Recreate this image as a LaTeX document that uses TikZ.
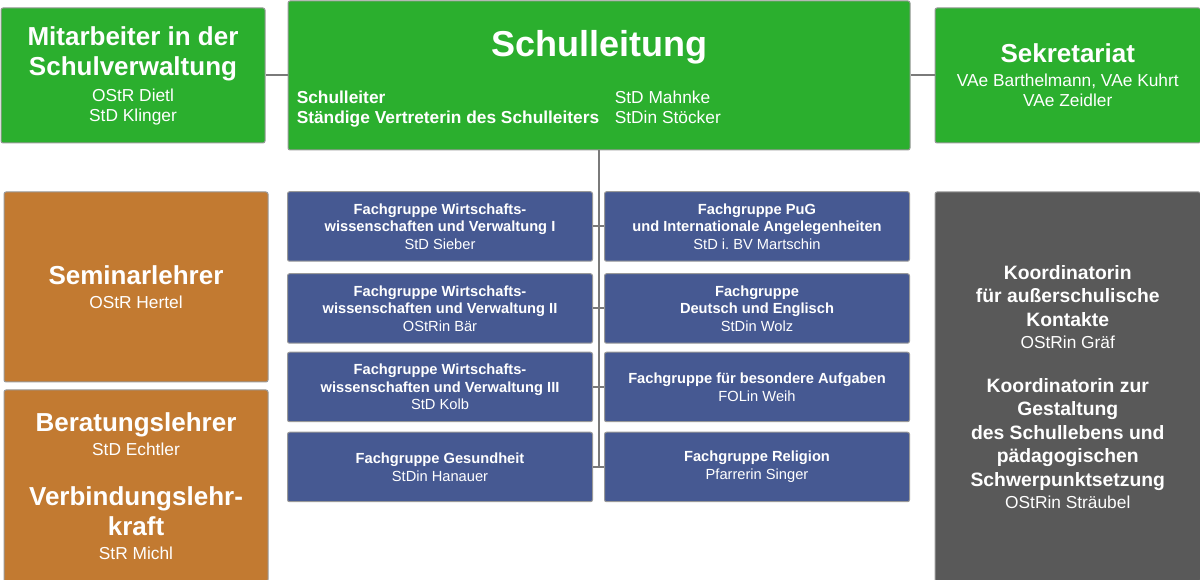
\documentclass[tikz,border=0pt]{standalone}
\usepackage{fontspec}
\setmainfont{Liberation Sans}

\definecolor{slgruen}{RGB}{43,175,46}
\definecolor{fgblau}{RGB}{70,89,146}
\definecolor{lehrorange}{RGB}{194,122,49}
\definecolor{kograu}{RGB}{89,89,89}
\definecolor{liniengrau}{RGB}{122,122,122}

\newcommand{\px}{0.75pt}
\newcommand{\Titel}[1]{{\fontsize{19.5}{22.5}\selectfont\bfseries #1}}
\newcommand{\Name}[1]{{\fontsize{13}{15}\selectfont #1}}
\newcommand{\Kopf}[1]{{\fontsize{14.5}{17.5}\selectfont\bfseries #1}}

\tikzset{
  kasten/.style={rectangle, draw=black!40, line width=0.75pt, rounded corners=1.5pt, text=white, align=center, inner sep=0pt, font=\fontsize{13}{22.5}\selectfont},
  gruen/.style={kasten, fill=slgruen},
  lehrer/.style={kasten, fill=lehrorange},
  grau/.style={kasten, fill=kograu},
  fg/.style={kasten, fill=fgblau, minimum width=305*\px, minimum height=69.5*\px, font=\fontsize{11}{13.2}\selectfont},
  linie/.style={draw=liniengrau, line width=1.5pt},
}

\begin{document}
\begin{tikzpicture}[x=0.75pt, y=-0.75pt]
\useasboundingbox (0,0) rectangle (1200,580);

\node [gruen, minimum width=264*\px, minimum height=135*\px] (MA) at (133, 75.5)
  {\Titel{Mitarbeiter in der}\\\Titel{Schulverwaltung}\\[-3pt]\Name{OStR Dietl}\\[-7.5pt]\Name{StD Klinger}};
\node [gruen, minimum width=622*\px, minimum height=149*\px] (SL) at (599, 75.5) {};
\node [anchor=base, text=white, font=\fontsize{27}{30}\selectfont\bfseries] (SLt) at (599, 57) {Schulleitung};
\node [anchor=base west, text=white, inner sep=0pt, font=\fontsize{13}{15}\selectfont] (SLn) at (296.5, 104)
  {\begin{tabular}[t]{@{}l@{\hspace{11.7pt}}l@{}}\bfseries Schulleiter & StD Mahnke\\ \bfseries Ständige Vertreterin des Schulleiters & StDin Stöcker\end{tabular}};
\node [gruen, minimum width=265.5*\px, minimum height=135*\px] (SK) at (1067.75, 75.5)
  {\Titel{Sekretariat}\\[-4.5pt]\Name{VAe Barthelmann, VAe Kuhrt}\\[-7.5pt]\Name{VAe Zeidler}};

\node [lehrer, minimum width=264*\px, minimum height=190*\px] (SE) at (136, 287)
  {\Titel{Seminarlehrer}\\[-4.5pt]\Name{OStR Hertel}};
\node [lehrer, minimum width=264*\px, minimum height=191.5*\px] (BE) at (136, 485.75)
  {\Titel{Beratungslehrer}\\[-4.5pt]\Name{StD Echtler}\\[15pt]\Titel{Verbindungslehr-}\\\Titel{kraft}\\[-4.5pt]\Name{StR Michl}};
\node [grau, minimum width=265.5*\px, minimum height=389.5*\px] (KO) at (1067.75, 386.75)
  {\Kopf{Koordinatorin}\\[-4.9pt]\Kopf{für außerschulische}\\[-4.9pt]\Kopf{Kontakte}\\[-6pt]\Name{OStRin Gräf}\\[10.5pt]\Kopf{Koordinatorin zur}\\[-4.9pt]\Kopf{Gestaltung}\\[-4.9pt]\Kopf{des Schullebens und}\\[-4.9pt]\Kopf{pädagogischen}\\[-4.9pt]\Kopf{Schwerpunktsetzung}\\[-6pt]\Name{OStRin Sträubel}};

\node [fg] (F1) at (440, 226.5) {\textbf{Fachgruppe Wirtschafts-}\\\textbf{wissenschaften und Verwaltung I}\\StD Sieber};
\node [fg] (F2) at (757, 226.5) {\textbf{Fachgruppe PuG}\\\textbf{und Internationale Angelegenheiten}\\StD i.\ BV Martschin};
\node [fg] (F3) at (440, 308.5) {\textbf{Fachgruppe Wirtschafts-}\\\textbf{wissenschaften und Verwaltung II}\\OStRin Bär};
\node [fg] (F4) at (757, 308.5) {\textbf{Fachgruppe}\\\textbf{Deutsch und Englisch}\\StDin Wolz};
\node [fg] (F5) at (440, 387) {\textbf{Fachgruppe Wirtschafts-}\\\textbf{wissenschaften und Verwaltung III}\\StD Kolb};
\node [fg] (F6) at (757, 387) {\textbf{Fachgruppe für besondere Aufgaben}\\FOLin Weih};
\node [fg] (F7) at (440, 467) {\textbf{Fachgruppe Gesundheit}\\StDin Hanauer};
\node [fg] (F8) at (757, 467) {\textbf{Fachgruppe Religion}\\Pfarrerin Singer};

\draw [linie] (MA) to (SL);
\draw [linie] (SL) to (SK);
\draw [linie] (SL.south) to (SL.south |- F7.east);
\draw [linie] (F1.east) to (F2.west);
\draw [linie] (F3.east) to (F4.west);
\draw [linie] (F5.east) to (F6.west);
\draw [linie] (F7.east) to (F8.west);

\end{tikzpicture}
\end{document}
